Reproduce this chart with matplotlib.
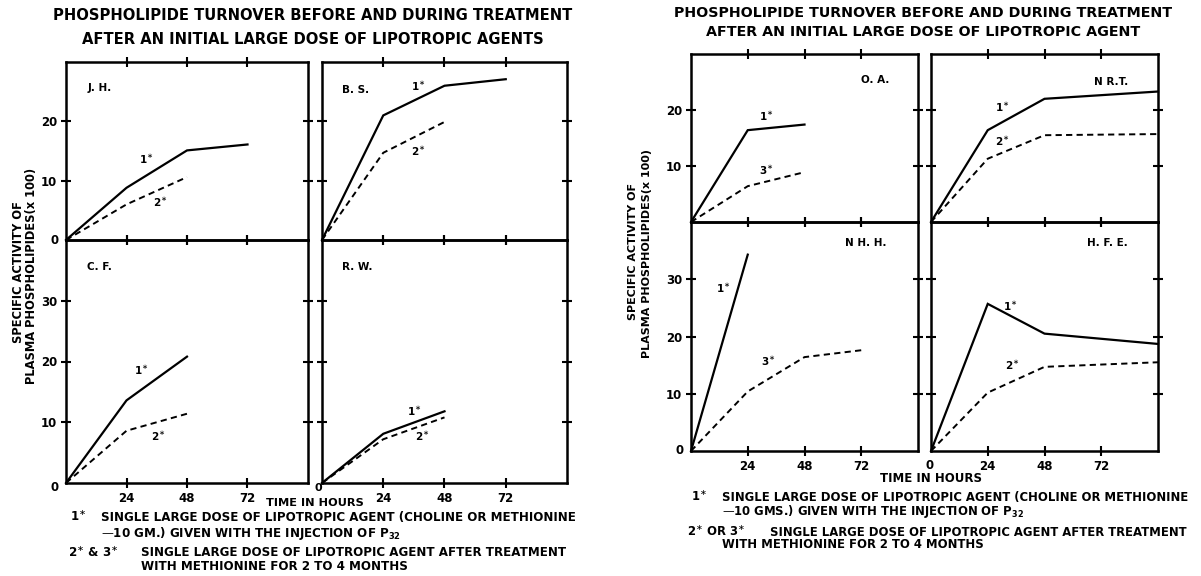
import matplotlib
matplotlib.use("Agg")
import matplotlib.pyplot as plt

W, H = 1201, 576
fig = plt.figure(figsize=(W / 100, H / 100), dpi=100)
plt.rcParams['font.family'] = ['DejaVu Sans']
BOLD = dict(fontweight='bold', color='black')

# ---------------- data ----------------
x_tick_hours = [24, 48, 72]
y_ticks_top = [10, 20]
y_ticks_bottom = [10, 20, 30]

jh_hours_1 = [0, 24, 48, 72]
jh_first = [0, 8.8, 15.1, 16.1]
jh_hours_2 = [0, 24, 48]
jh_second = [0, 6.0, 10.6]

bs_hours_1 = [0, 24, 48, 72]
bs_first = [0, 21.0, 26.0, 27.1]
bs_hours_2 = [0, 24, 48]
bs_second = [0, 14.7, 19.9]

cf_hours = [0, 24, 48]
cf_first = [0, 13.6, 20.8]
cf_second = [0, 8.6, 11.4]

rw_hours = [0, 24, 48]
rw_first = [0, 8.1, 11.8]
rw_second = [0, 7.2, 10.8]

oa_hours = [0, 24, 48]
oa_first = [0, 16.4, 17.4]
oa_third = [0, 6.4, 8.9]

nrt_hours = [0, 24, 48, 96]
nrt_first = [0, 16.4, 22.0, 23.3]
nrt_second = [0, 11.3, 15.5, 15.7]

nhh_hours_1 = [0, 24]
nhh_first = [0, 34.3]
nhh_hours_3 = [0, 24, 48, 72]
nhh_third = [0, 10.4, 16.4, 17.6]

hfe_hours = [0, 24, 48, 96]
hfe_first = [0, 25.7, 20.5, 18.7]
hfe_second = [0, 10.2, 14.7, 15.5]

panel_names = ["J. H.", "B. S.", "C. F.", "R. W.", "O. A.", "N R.T.", "N H. H.", "H. F. E."]

# ---------------- helpers ----------------
def px_axes(l, t, r, b):
    return fig.add_axes([l / W, 1 - b / H, (r - l) / W, (b - t) / H])

SOLID = dict(color='black', lw=1.6, solid_joinstyle='miter', clip_on=False)
DASH = dict(color='black', lw=1.4, linestyle=(0, (3.2, 2.2)), clip_on=False)


def make_panel(rect, ymax, yticks, show_xlabels, show_ylabels):
    ax = px_axes(*rect)
    ax.set_xlim(0, 96)
    ax.set_ylim(0, ymax)
    ax.set_xticks(x_tick_hours)
    ax.set_yticks(yticks)
    ax.tick_params(direction='inout', length=7, width=1.5, top=True, right=True,
                   labelsize=8.5, pad=3)
    ax.set_xticklabels([str(v) for v in x_tick_hours] if show_xlabels else [])
    ax.set_yticklabels([str(v) for v in yticks] if show_ylabels else [])
    for lab in ax.get_xticklabels() + ax.get_yticklabels():
        lab.set_fontweight('bold')
    for s in ax.spines.values():
        s.set_linewidth(1.8)
    ax.set_facecolor('none')
    return ax


def curve_label(ax, x, y, num):
    ax.text(x, y, num + r"$^{\ast}$", fontsize=7.5, ha='center', va='center', **BOLD)


def panel_name(ax, x, y, name):
    ax.text(x, y, name, fontsize=7.5, ha='left', va='center', **BOLD)

FN = 8.6   # footnote font size

# ================= LEFT FIGURE =================
fig.text(313 / W, 1 - 16 / H, "PHOSPHOLIPIDE TURNOVER BEFORE AND DURING TREATMENT",
         ha='center', va='center', fontsize=10.6, **BOLD)
fig.text(313 / W, 1 - 40 / H, "AFTER AN INITIAL LARGE DOSE OF LIPOTROPIC AGENTS",
         ha='center', va='center', fontsize=10.6, **BOLD)

ax_jh = make_panel((66, 62, 308, 240), 30, y_ticks_top, False, True)
ax_bs = make_panel((322, 62, 567, 240), 30, y_ticks_top, False, False)
ax_cf = make_panel((66, 240, 308, 483), 40, y_ticks_bottom, True, True)
ax_rw = make_panel((322, 240, 567, 483), 40, y_ticks_bottom, True, False)

ax_jh.plot(jh_hours_1, jh_first, **SOLID)
ax_jh.plot(jh_hours_2, jh_second, **DASH)
panel_name(ax_jh, 8.5, 25.6, panel_names[0])
curve_label(ax_jh, 32, 13.5, "1")
curve_label(ax_jh, 37.5, 6.3, "2")
ax_jh.text(-3, 0, "0", fontsize=8.5, ha='right', va='center', **BOLD)

ax_bs.plot(bs_hours_1, bs_first, **SOLID)
ax_bs.plot(bs_hours_2, bs_second, **DASH)
panel_name(ax_bs, 8, 25.3, panel_names[1])
curve_label(ax_bs, 37.8, 25.8, "1")
curve_label(ax_bs, 37.8, 14.9, "2")

ax_cf.plot(cf_hours, cf_first, **SOLID)
ax_cf.plot(cf_hours, cf_second, **DASH)
panel_name(ax_cf, 8.5, 35.5, panel_names[2])
curve_label(ax_cf, 29.8, 18.5, "1")
curve_label(ax_cf, 36.7, 7.6, "2")
ax_cf.text(-3, -0.8, "0", fontsize=8.5, ha='right', va='center', **BOLD)

ax_rw.plot(rw_hours, rw_first, **SOLID)
ax_rw.plot(rw_hours, rw_second, **DASH)
panel_name(ax_rw, 8, 35.5, panel_names[3])
curve_label(ax_rw, 36.2, 11.8, "1")
curve_label(ax_rw, 39.2, 7.6, "2")
ax_rw.text(-1.5, -0.9, "0", fontsize=8, ha='center', va='center', **BOLD)

fig.text(315 / W, 1 - 503 / H, "TIME IN HOURS", ha='center', va='center', fontsize=8.2, **BOLD)
fig.text(19 / W, 1 - 272 / H, "SPECIFIC ACTIVITY OF", rotation=90, ha='center', va='center',
         fontsize=8.3, **BOLD)
fig.text(32 / W, 1 - 276 / H, "PLASMA PHOSPHOLIPIDES(x 100)", rotation=90, ha='center',
         va='center', fontsize=8.3, **BOLD)

fig.text(70 / W, 1 - 517 / H, r"1$^{\ast}$", ha='left', va='center', fontsize=FN, **BOLD)
fig.text(101 / W, 1 - 517 / H, "SINGLE LARGE DOSE OF LIPOTROPIC AGENT (CHOLINE OR METHIONINE",
         ha='left', va='center', fontsize=FN, **BOLD)
fig.text(101 / W, 1 - 533 / H, r"—10 GM.) GIVEN WITH THE INJECTION OF P$_{\mathbf{32}}$",
         ha='left', va='center', fontsize=FN, **BOLD)
fig.text(68 / W, 1 - 553 / H, r"2$^{\ast}$ & 3$^{\ast}$", ha='left', va='center', fontsize=FN, **BOLD)
fig.text(141 / W, 1 - 553 / H, "SINGLE LARGE DOSE OF LIPOTROPIC AGENT AFTER TREATMENT",
         ha='left', va='center', fontsize=FN, **BOLD)
fig.text(141 / W, 1 - 566 / H, "WITH METHIONINE FOR 2 TO 4 MONTHS",
         ha='left', va='center', fontsize=FN, **BOLD)

# ================= RIGHT FIGURE =================
fig.text(923 / W, 1 - 13 / H, "PHOSPHOLIPIDE TURNOVER BEFORE AND DURING TREATMENT",
         ha='center', va='center', fontsize=10.3, **BOLD)
fig.text(923 / W, 1 - 32 / H, "AFTER AN INITIAL LARGE DOSE OF LIPOTROPIC AGENT",
         ha='center', va='center', fontsize=10.3, **BOLD)

ax_oa = make_panel((691, 54, 918, 222), 30, y_ticks_top, False, True)
ax_nrt = make_panel((931, 54, 1158, 222), 30, y_ticks_top, False, False)
ax_nhh = make_panel((691, 222, 918, 451), 40, y_ticks_bottom, True, True)
ax_hfe = make_panel((931, 222, 1158, 451), 40, y_ticks_bottom, True, False)

ax_oa.plot(oa_hours, oa_first, **SOLID)
ax_oa.plot(oa_hours, oa_third, **DASH)
panel_name(ax_oa, 72, 25.4, panel_names[4])
curve_label(ax_oa, 31.9, 18.8, "1")
curve_label(ax_oa, 31.9, 9.2, "3")

ax_nrt.plot(nrt_hours, nrt_first, **SOLID)
ax_nrt.plot(nrt_hours, nrt_second, **DASH)
panel_name(ax_nrt, 69, 25.0, panel_names[5])
curve_label(ax_nrt, 30.3, 20.5, "1")
curve_label(ax_nrt, 30.3, 14.3, "2")

ax_nhh.plot(nhh_hours_1, nhh_first, **SOLID)
ax_nhh.plot(nhh_hours_3, nhh_third, **DASH)
panel_name(ax_nhh, 65, 36.4, panel_names[6])
curve_label(ax_nhh, 13.5, 28.4, "1")
curve_label(ax_nhh, 32.7, 15.6, "3")
ax_nhh.text(-3, 0, "0", fontsize=8.5, ha='right', va='center', **BOLD)

ax_hfe.plot(hfe_hours, hfe_first, **SOLID)
ax_hfe.plot(hfe_hours, hfe_second, **DASH)
panel_name(ax_hfe, 66, 36.4, panel_names[7])
curve_label(ax_hfe, 33.7, 25.2, "1")
curve_label(ax_hfe, 34.4, 15.0, "2")
ax_hfe.text(-0.5, -2.5, "0", fontsize=8.5, ha='center', va='center', **BOLD)

fig.text(931 / W, 1 - 478 / H, "TIME IN HOURS", ha='center', va='center', fontsize=8.5, **BOLD)
fig.text(633 / W, 1 - 252 / H, "SPECIFIC ACTIVITY OF", rotation=90, ha='center', va='center',
         fontsize=8, **BOLD)
fig.text(647 / W, 1 - 254 / H, "PLASMA PHOSPHOLIPIDES(x 100)", rotation=90, ha='center',
         va='center', fontsize=8, **BOLD)

FR = 8.4
fig.text(691 / W, 1 - 497 / H, r"1$^{\ast}$", ha='left', va='center', fontsize=FR, **BOLD)
fig.text(722 / W, 1 - 497 / H, "SINGLE LARGE DOSE OF LIPOTROPIC AGENT (CHOLINE OR METHIONINE",
         ha='left', va='center', fontsize=FR, **BOLD)
fig.text(722 / W, 1 - 511 / H, r"—10 GMS.) GIVEN WITH THE INJECTION OF P$_{\mathbf{32}}$",
         ha='left', va='center', fontsize=FR, **BOLD)
fig.text(687 / W, 1 - 532 / H, r"2$^{\ast}$ OR 3$^{\ast}$", ha='left', va='center', fontsize=FR, **BOLD)
fig.text(770 / W, 1 - 532 / H, "SINGLE LARGE DOSE OF LIPOTROPIC AGENT AFTER TREATMENT",
         ha='left', va='center', fontsize=FR, **BOLD)
fig.text(722 / W, 1 - 545 / H, "WITH METHIONINE FOR 2 TO 4 MONTHS",
         ha='left', va='center', fontsize=FR, **BOLD)

fig.savefig("out.png", dpi=100, facecolor='white')
